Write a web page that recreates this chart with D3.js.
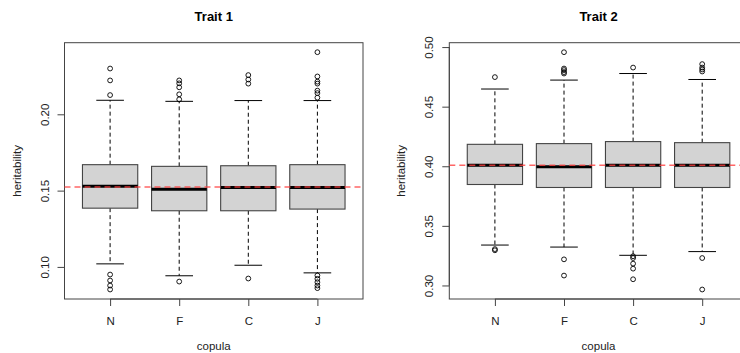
<!DOCTYPE html>
<html>
<head>
<meta charset="utf-8">
<script src="https://cdn.jsdelivr.net/npm/d3@7"></script>
<style>
  html, body { margin: 0; padding: 0; background: #fff; }
  svg { display: block; font-family: "Liberation Sans", Arial, sans-serif; }
</style>
</head>
<body>
<svg id="chart" width="740" height="353"></svg>
<script>
// ---------- DATA ----------
const categories = ["N", "F", "C", "J"];

// Trait 1
const t1WhiskerLow  = [0.1020, 0.0942, 0.1011, 0.0961];
const t1Q1          = [0.1385, 0.1368, 0.1368, 0.1379];
const t1Median      = [0.1529, 0.1509, 0.1520, 0.1520];
const t1Q3          = [0.1670, 0.1659, 0.1663, 0.1670];
const t1WhiskerHigh = [0.2092, 0.2085, 0.2090, 0.2090];
const t1Outliers = [
  [0.2300, 0.2222, 0.2126, 0.0950, 0.0911, 0.0878, 0.0852],
  [0.2222, 0.2203, 0.2177, 0.2131, 0.2098, 0.0904],
  [0.2257, 0.2228, 0.2201, 0.0924],
  [0.2407, 0.2248, 0.2214, 0.2201, 0.2155, 0.2139, 0.2109, 0.0944, 0.0922, 0.0900, 0.0878, 0.0861]
];
const t1Reference = 0.1524;

// Trait 2
const t2WhiskerLow  = [0.3339, 0.3322, 0.3253, 0.3284];
const t2Q1          = [0.3847, 0.3822, 0.3822, 0.3822];
const t2Median      = [0.4008, 0.3995, 0.4008, 0.4008];
const t2Q3          = [0.4184, 0.4190, 0.4207, 0.4198];
const t2WhiskerHigh = [0.4648, 0.4723, 0.4778, 0.4728];
const t2Outliers = [
  [0.4748, 0.3305, 0.3295],
  [0.4957, 0.4820, 0.4807, 0.4790, 0.4778, 0.3219, 0.3083],
  [0.4828, 0.3245, 0.3230, 0.3183, 0.3141, 0.3052],
  [0.4857, 0.4828, 0.4812, 0.4795, 0.3230, 0.2966]
];
const t2Reference = 0.4008;

const t1Ticks = [0.10, 0.15, 0.20];
const t2Ticks = [0.30, 0.35, 0.40, 0.45, 0.50];

const titles = ["Trait 1", "Trait 2"];
const xLabel = "copula";
const yLabel = "heritability";

// ---------- DRAW ----------
const svg = d3.select("#chart");
const textColor = "#222";
const boxLine = "#444";

const panels = [
  { title: titles[0], lo: t1WhiskerLow, q1: t1Q1, med: t1Median, q3: t1Q3, hi: t1WhiskerHigh,
    out: t1Outliers, ref: t1Reference, ticks: t1Ticks, left: 64.5 },
  { title: titles[1], lo: t2WhiskerLow, q1: t2Q1, med: t2Median, q3: t2Q3, hi: t2WhiskerHigh,
    out: t2Outliers, ref: t2Reference, ticks: t2Ticks, left: 449.3 }
];

const plotTop = 42.7, plotBottom = 299, plotWidth = 298.5;

panels.forEach(p => {
  const g = svg.append("g");
  const x0 = p.left, x1 = p.left + plotWidth;

  // y-domain: data range extended by 4% (R style)
  const all = [].concat(p.lo, p.hi, ...p.out);
  const [mn, mx] = d3.extent(all);
  const pad = (mx - mn) * 0.04;
  const y = d3.scaleLinear().domain([mn - pad, mx + pad]).range([plotBottom, plotTop]);
  const x = d3.scaleLinear().domain([0.34, 4.66]).range([x0, x1]);
  const bw = x(0.8) - x(0);

  // Plot frame
  g.append("rect")
    .attr("x", x0).attr("y", plotTop)
    .attr("width", plotWidth).attr("height", plotBottom - plotTop)
    .attr("fill", "none").attr("stroke", boxLine).attr("stroke-width", 1);

  // Y axis
  const yAxis = d3.axisLeft(y).tickValues(p.ticks).tickSize(7).tickPadding(0)
    .tickFormat(d3.format(".2f"));
  const ya = g.append("g").attr("transform", `translate(${x0},0)`).call(yAxis);
  ya.select(".domain").remove();
  ya.selectAll(".tick line").attr("stroke", boxLine);
  ya.append("line").attr("x1", 0).attr("x2", 0)
    .attr("y1", y(p.ticks[0])).attr("y2", y(p.ticks[p.ticks.length - 1]))
    .attr("stroke", boxLine);
  ya.selectAll(".tick text")
    .attr("x", 0).attr("y", 0)
    .attr("transform", "translate(-16,0) rotate(-90)")
    .attr("text-anchor", "middle")
    .attr("dy", 0)
    .attr("fill", textColor)
    .style("font-size", "11.5px")
    .style("font-family", "'Liberation Sans', Arial, sans-serif");

  // X axis
  const xAxis = d3.axisBottom(x).tickValues([1, 2, 3, 4]).tickSize(7).tickPadding(0)
    .tickFormat((d, i) => categories[i]);
  const xa = g.append("g").attr("transform", `translate(0,${plotBottom})`).call(xAxis);
  xa.select(".domain").remove();
  xa.selectAll(".tick line").attr("stroke", boxLine);
  xa.append("line").attr("x1", x(1)).attr("x2", x(4)).attr("y1", 0).attr("y2", 0).attr("stroke", boxLine);
  xa.selectAll(".tick text")
    .attr("y", 26).attr("dy", 0)
    .attr("fill", textColor)
    .style("font-size", "11.5px")
    .style("font-family", "'Liberation Sans', Arial, sans-serif");

  // Boxes
  categories.forEach((c, i) => {
    const cx = x(i + 1);
    // whiskers dashed
    g.append("line").attr("x1", cx).attr("x2", cx)
      .attr("y1", y(p.q3[i])).attr("y2", y(p.hi[i]))
      .attr("stroke", "#000").attr("stroke-dasharray", "4,3");
    g.append("line").attr("x1", cx).attr("x2", cx)
      .attr("y1", y(p.q1[i])).attr("y2", y(p.lo[i]))
      .attr("stroke", "#000").attr("stroke-dasharray", "4,3");
    // caps
    [p.hi[i], p.lo[i]].forEach(v => {
      g.append("line").attr("x1", cx - bw / 4).attr("x2", cx + bw / 4)
        .attr("y1", y(v)).attr("y2", y(v)).attr("stroke", "#000");
    });
    // box
    g.append("rect")
      .attr("x", cx - bw / 2).attr("y", y(p.q3[i]))
      .attr("width", bw).attr("height", y(p.q1[i]) - y(p.q3[i]))
      .attr("fill", "#d3d3d3").attr("stroke", boxLine).attr("stroke-width", 1.1);
    // median
    g.append("line").attr("x1", cx - bw / 2).attr("x2", cx + bw / 2)
      .attr("y1", y(p.med[i])).attr("y2", y(p.med[i]))
      .attr("stroke", "#000").attr("stroke-width", 3);
    // outliers
    g.selectAll(null).data(p.out[i]).enter().append("circle")
      .attr("cx", cx).attr("cy", d => y(d)).attr("r", 2.4)
      .attr("fill", "none").attr("stroke", "#000").attr("stroke-width", 0.9);
  });

  // Reference line
  g.append("line").attr("x1", x0).attr("x2", x1)
    .attr("y1", y(p.ref)).attr("y2", y(p.ref))
    .attr("stroke", "#ff4040").attr("stroke-opacity", 0.8)
    .attr("stroke-width", 1.5).attr("stroke-dasharray", "6,4");

  // Title
  g.append("text").attr("x", (x0 + x1) / 2).attr("y", 20.5)
    .attr("text-anchor", "middle").attr("fill", "#000")
    .style("font-size", "13px").style("font-weight", "bold")
    .text(p.title);

  // Axis labels
  g.append("text").attr("x", (x0 + x1) / 2).attr("y", 350)
    .attr("text-anchor", "middle").attr("fill", textColor)
    .style("font-size", "11.5px").text(xLabel);
  g.append("text")
    .attr("transform", `translate(${x0 - 44},${(plotTop + plotBottom) / 2}) rotate(-90)`)
    .attr("text-anchor", "middle").attr("fill", textColor)
    .style("font-size", "11.5px").text(yLabel);
});
</script>
</body>
</html>
